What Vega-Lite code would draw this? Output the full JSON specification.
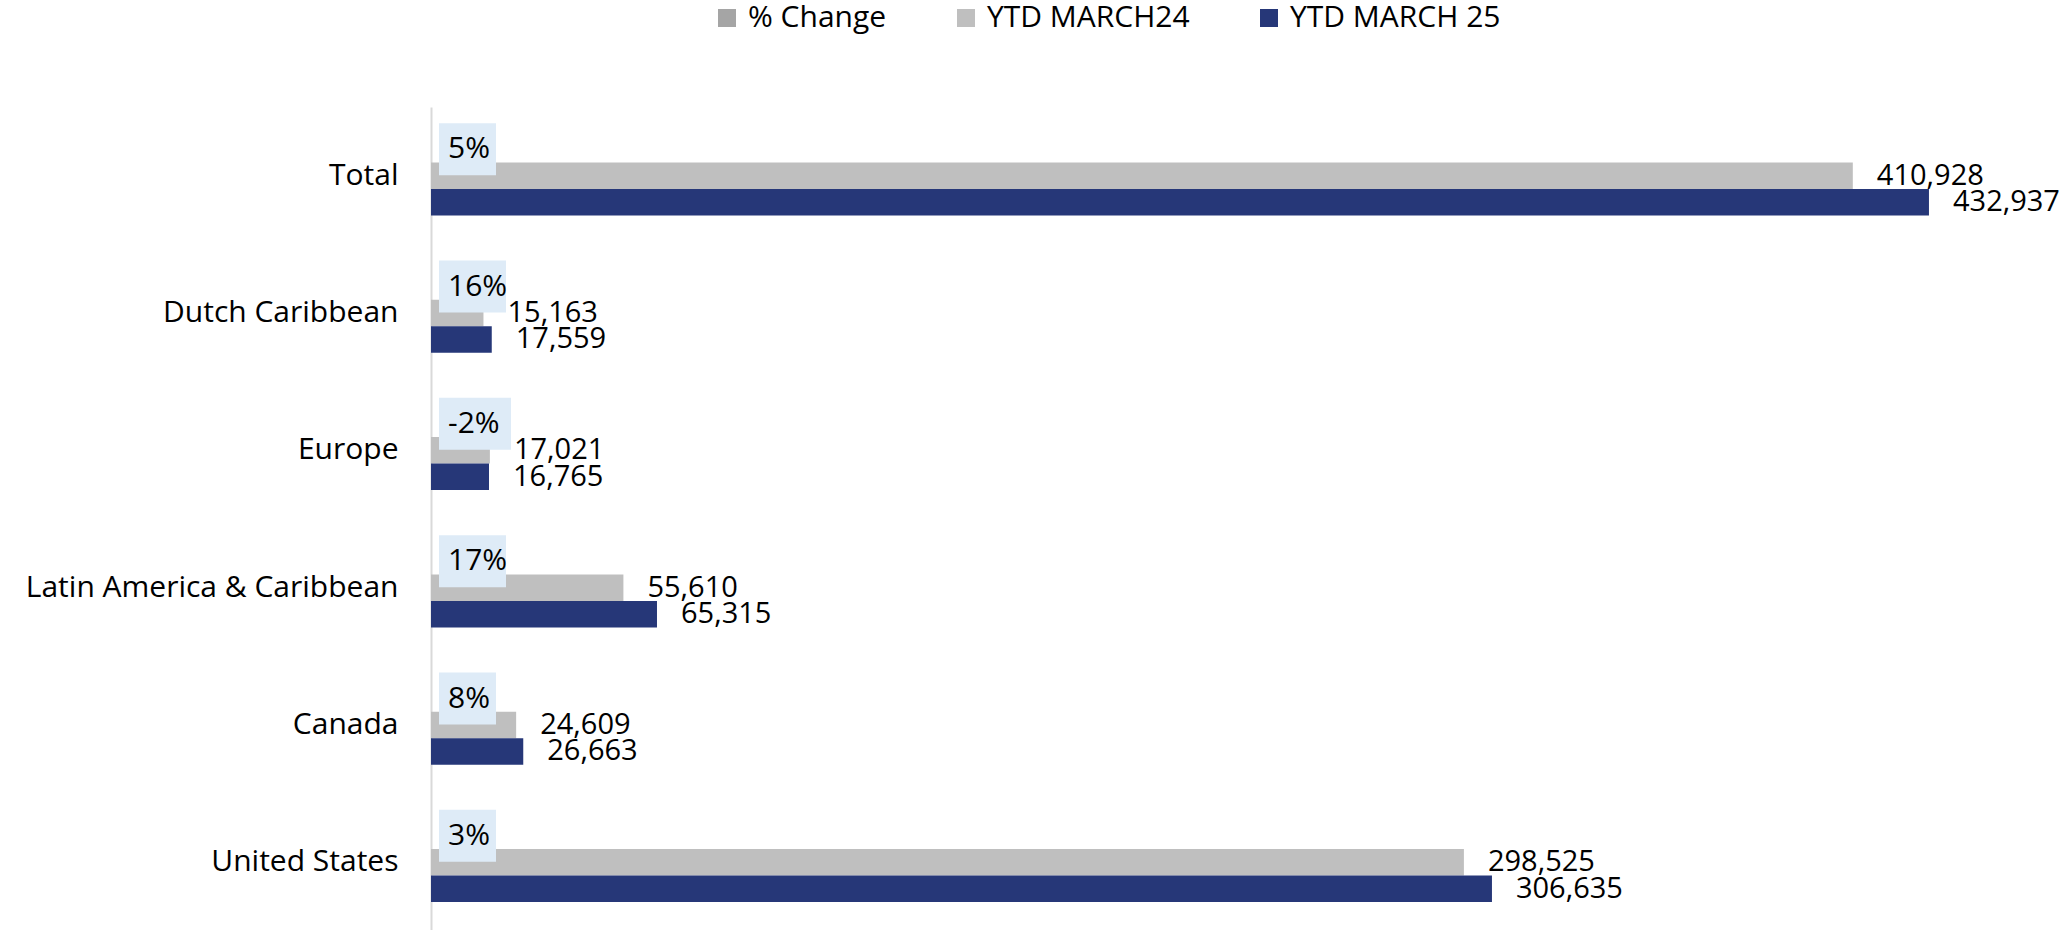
{
  "$schema": "https://vega.github.io/schema/vega-lite/v6.json",
  "autosize": {"type": "none"},
  "padding": {"left": 431, "top": 107, "right": 77, "bottom": 0},
  "width": 1557,
  "height": 824,
  "background": "white",
  "config": {
    "view": {"stroke": null},
    "font": "Open Sans",
    "locale": {"number": {"decimal": ".", "thousands": ",", "grouping": [3], "currency": ["$", ""], "minus": "-"}}
  },
  "data": {
    "values": [
      {"region": "Total", "series": "% Change", "value": 0.0536},
      {"region": "Total", "series": "YTD MARCH24", "value": 410928},
      {"region": "Total", "series": "YTD MARCH 25", "value": 432937},
      {"region": "Dutch Caribbean", "series": "% Change", "value": 0.158},
      {"region": "Dutch Caribbean", "series": "YTD MARCH24", "value": 15163},
      {"region": "Dutch Caribbean", "series": "YTD MARCH 25", "value": 17559},
      {"region": "Europe", "series": "% Change", "value": -0.0150},
      {"region": "Europe", "series": "YTD MARCH24", "value": 17021},
      {"region": "Europe", "series": "YTD MARCH 25", "value": 16765},
      {"region": "Latin America & Caribbean", "series": "% Change", "value": 0.1745},
      {"region": "Latin America & Caribbean", "series": "YTD MARCH24", "value": 55610},
      {"region": "Latin America & Caribbean", "series": "YTD MARCH 25", "value": 65315},
      {"region": "Canada", "series": "% Change", "value": 0.0835},
      {"region": "Canada", "series": "YTD MARCH24", "value": 24609},
      {"region": "Canada", "series": "YTD MARCH 25", "value": 26663},
      {"region": "United States", "series": "% Change", "value": 0.0272},
      {"region": "United States", "series": "YTD MARCH24", "value": 298525},
      {"region": "United States", "series": "YTD MARCH 25", "value": 306635}
    ]
  },
  "encoding": {
    "y": {
      "field": "region",
      "type": "nominal",
      "sort": ["Total", "Dutch Caribbean", "Europe", "Latin America & Caribbean", "Canada", "United States"],
      "scale": {"paddingInner": 0.4214, "paddingOuter": 0.2107},
      "axis": {
        "title": null,
        "ticks": false,
        "labelPadding": 33,
        "labelFontSize": 30,
        "labelFont": "Open Sans",
        "labelColor": "#000000",
        "labelLimit": 0,
        "domainColor": "#D9D9D9",
        "domainWidth": 2
      }
    },
    "yOffset": {
      "field": "series",
      "type": "nominal",
      "sort": ["% Change", "YTD MARCH24", "YTD MARCH 25"],
      "scale": {"paddingInner": 0, "paddingOuter": 0}
    }
  },
  "layer": [
    {
      "mark": {"type": "bar"},
      "encoding": {
        "x": {"field": "value", "type": "quantitative", "scale": {"domain": [0, 450000], "nice": false}, "axis": null},
        "color": {
          "field": "series",
          "type": "nominal",
          "scale": {"domain": ["% Change", "YTD MARCH24", "YTD MARCH 25"], "range": ["#A5A5A5", "#BFBFBF", "#263778"]},
          "legend": {
            "title": null,
            "orient": "none",
            "direction": "horizontal",
            "legendX": 281,
            "legendY": -104,
            "symbolType": "square",
            "symbolSize": 324,
            "symbolStrokeWidth": 0,
            "labelFontSize": 30,
            "labelFont": "Open Sans",
            "labelColor": "#000000",
            "labelLimit": 0,
            "labelOffset": 6,
            "columnPadding": 64
          }
        }
      }
    },
    {
      "transform": [{"filter": "datum.series == '% Change' && datum.value >= 0 && datum.value < 0.095"}],
      "mark": {"type": "bar", "color": "#DEEBF7", "size": 52, "xOffset": 8, "x2Offset": 65},
      "encoding": {"x": {"datum": 0, "type": "quantitative"}, "x2": {"datum": 0}}
    },
    {
      "transform": [{"filter": "datum.series == '% Change' && datum.value >= 0.095"}],
      "mark": {"type": "bar", "color": "#DEEBF7", "size": 52, "xOffset": 8, "x2Offset": 75},
      "encoding": {"x": {"datum": 0, "type": "quantitative"}, "x2": {"datum": 0}}
    },
    {
      "transform": [{"filter": "datum.series == '% Change' && datum.value < 0"}],
      "mark": {"type": "bar", "color": "#DEEBF7", "size": 52, "xOffset": 8, "x2Offset": 80},
      "encoding": {"x": {"datum": 0, "type": "quantitative"}, "x2": {"datum": 0}}
    },
    {
      "transform": [{"filter": "datum.series == '% Change'"}],
      "mark": {"type": "text", "align": "left", "baseline": "middle", "dx": 17, "fontSize": 30, "font": "Open Sans", "color": "#000000"},
      "encoding": {
        "x": {"datum": 0, "type": "quantitative"},
        "text": {"field": "value", "type": "quantitative", "format": ".0%"}
      }
    },
    {
      "transform": [{"filter": "datum.series != '% Change'"}],
      "mark": {"type": "text", "align": "left", "baseline": "middle", "dx": 24, "fontSize": 29, "font": "Open Sans", "color": "#000000"},
      "encoding": {
        "x": {"field": "value", "type": "quantitative"},
        "text": {"field": "value", "type": "quantitative", "format": ",.0f"}
      }
    }
  ]
}
